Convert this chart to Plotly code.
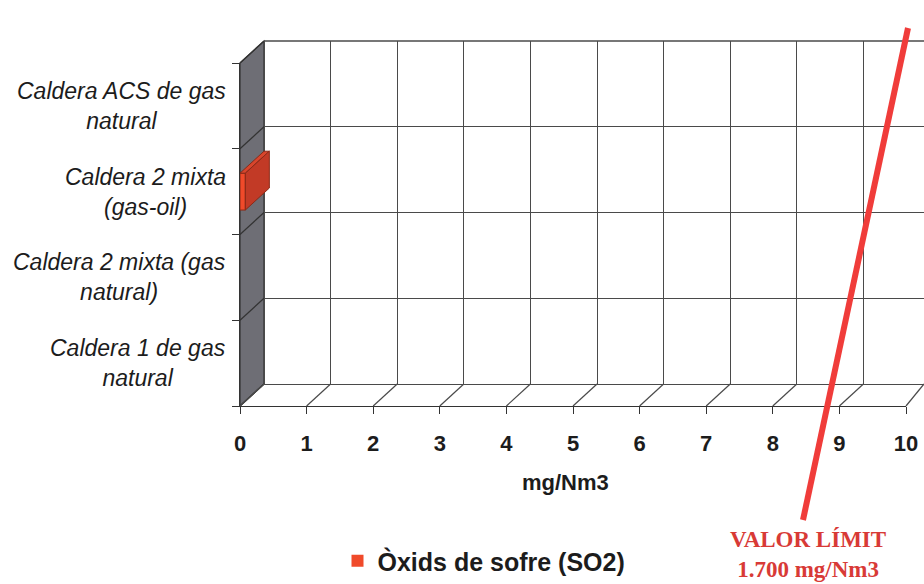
import plotly.graph_objects as go

# ---------------- data ----------------
categories = [
    "Caldera 1 de gas natural",
    "Caldera 2 mixta (gas natural)",
    "Caldera 2 mixta (gas-oil)",
    "Caldera ACS de gas natural",
]
category_labels = [
    "Caldera 1 de gas<br>natural",
    "Caldera 2 mixta (gas<br>natural)",
    "Caldera 2 mixta<br>(gas-oil)",
    "Caldera ACS de gas<br>natural",
]
so2_values = [0, 0, 0.08, 0]
series_name = "Òxids de sofre (SO2)"
x_ticks = list(range(0, 11))
x_title = "mg/Nm3"
limit_text = "VALOR LÍMIT<br>1.700 mg/Nm3"

# ---------------- geometry helpers (pixels -> paper) ----------------
W, H = 924, 584
def px(x):
    return x / W
def py(y):
    return 1 - y / H

FX0, FX1 = 240, 906      # front plane x extent (0 .. 10)
FYB, FYT = 406, 63       # front plane y extent
DX, DY = 24, 22          # 3-D depth offset in pixels
unit_px = (FX1 - FX0) / 10.0
cat_px = (FYB - FYT) / len(categories)

GRID = "#4a4a4a"
TXT = "#1c1c1c"
BAR = "#f04a2a"

fig = go.Figure()

# back wall subplot (x / y)
fig.add_trace(go.Scatter(x=[None], y=[None], xaxis="x", yaxis="y",
                         showlegend=False, hoverinfo="skip"))
# front subplot with the bars (x2 / y2)
fig.add_trace(go.Bar(
    y=categories, x=so2_values, orientation="h", xaxis="x2", yaxis="y2",
    width=0.43, name=series_name,
    marker=dict(color=BAR, line=dict(width=0)),
))

shapes = []
# left wall
shapes.append(dict(type="path", xref="paper", yref="paper", layer="below",
                   path=f"M{px(FX0)},{py(FYT)} L{px(FX0+DX)},{py(FYT-DY)} "
                        f"L{px(FX0+DX)},{py(FYB-DY)} L{px(FX0)},{py(FYB)} Z",
                   fillcolor="#6e6e75", line=dict(color="#333333", width=1.2)))
# diagonals on the left wall at category boundaries
for i in range(len(categories) + 1):
    yb = FYB - i * cat_px
    shapes.append(dict(type="line", xref="paper", yref="paper", layer="below",
                       x0=px(FX0), y0=py(yb), x1=px(FX0 + DX), y1=py(yb - DY),
                       line=dict(color="#333333", width=1.2)))
# back wall top edge
shapes.append(dict(type="line", xref="paper", yref="paper", layer="below",
                   x0=px(FX0 + DX), y0=py(FYT - DY), x1=1, y1=py(FYT - DY),
                   line=dict(color=GRID, width=1.3)))
# floor diagonals at each x tick
for k in x_ticks:
    xf = FX0 + k * unit_px
    shapes.append(dict(type="line", xref="paper", yref="paper", layer="below",
                       x0=px(xf), y0=py(FYB), x1=px(min(xf + DX, W)), y1=py(FYB - DY),
                       line=dict(color=GRID, width=1.2)))

# 3-D faces for bars (data coordinates of the front axes)
ddx = DX / unit_px
ddy = DY / cat_px
half = 0.43 / 2
for i, v in enumerate(so2_values):
    if v <= 0:
        continue
    top = i + half
    bot = i - half
    shapes.append(dict(type="path", xref="x2", yref="y2",
                       path=f"M0,{bot} L{v},{bot} L{v},{top} L0,{top} Z",
                       fillcolor="rgba(0,0,0,0)", line=dict(color="#8a2a18", width=1)))
    shapes.append(dict(type="path", xref="x2", yref="y2",
                       path=f"M0,{top} L{v},{top} L{v+ddx},{top+ddy} L{ddx},{top+ddy} Z",
                       fillcolor="#d8452c", line=dict(color="#8a2a18", width=1)))
    shapes.append(dict(type="path", xref="x2", yref="y2",
                       path=f"M{v},{bot} L{v},{top} L{v+ddx},{top+ddy} L{v+ddx},{bot+ddy} Z",
                       fillcolor="#c23a26", line=dict(color="#8a2a18", width=1)))

# limit line
shapes.append(dict(type="line", xref="paper", yref="paper",
                   x0=px(908), y0=py(28), x1=px(803), y1=py(520),
                   line=dict(color="#f03c3a", width=6)))

annotations = []
for cat, lab in zip(categories, category_labels):
    annotations.append(dict(x=px(228), y=cat, xref="paper", yref="y2",
                            text=lab, showarrow=False, xanchor="right", yanchor="middle",
                            align="center",
                            font=dict(family="Arial", size=23, color=TXT, style="italic")))
annotations.append(dict(x=px(565), y=py(482), xref="paper", yref="paper",
                        text=x_title, showarrow=False, xanchor="center", yanchor="middle",
                        font=dict(family="Arial", size=22, color=TXT, weight="bold")))
annotations.append(dict(x=px(808), y=py(554), xref="paper", yref="paper",
                        text=limit_text, showarrow=False, align="center",
                        xanchor="center", yanchor="middle",
                        font=dict(family="Liberation Serif", size=23, color="#d83a36",
                                  weight="bold")))

back_xmax = (W - (FX0 + DX)) / unit_px

fig.update_layout(
    width=W, height=H,
    margin=dict(l=0, r=0, t=0, b=0),
    paper_bgcolor="white", plot_bgcolor="rgba(0,0,0,0)",
    template="none",
    showlegend=True,
    legend=dict(x=px(484), y=0, xanchor="center", yanchor="bottom",
                bgcolor="rgba(0,0,0,0)",
                font=dict(family="Arial", size=25, color=TXT, weight="bold")),
    xaxis=dict(domain=[px(FX0 + DX), 1], range=[0, back_xmax], anchor="y",
               showgrid=True, gridcolor=GRID, gridwidth=1.3, dtick=1, tick0=0,
               zeroline=True, zerolinecolor=GRID, zerolinewidth=1.3,
               showline=False, showticklabels=False, ticks="", automargin=False,
               fixedrange=True),
    yaxis=dict(domain=[py(FYB - DY), py(FYT - DY)], range=[0, 4.001], anchor="x",
               showgrid=True, gridcolor=GRID, gridwidth=1.3, dtick=1, tick0=0,
               zeroline=True, zerolinecolor=GRID, zerolinewidth=1.3,
               showline=False, showticklabels=False, ticks="", automargin=False,
               fixedrange=True),
    xaxis2=dict(domain=[px(FX0), px(FX1)], range=[0, 10], anchor="y2",
                showgrid=False, zeroline=False, showline=True, linecolor="#333333",
                linewidth=1.3, ticks="outside", ticklen=7, tickcolor="#333333",
                tickvals=x_ticks, ticktext=[str(t) for t in x_ticks],
                ticklabelstandoff=10,
                tickfont=dict(family="Arial", size=22, color=TXT, weight="bold"),
                automargin=False, fixedrange=True),
    yaxis2=dict(domain=[py(FYB), py(FYT)], type="category",
                categoryorder="array", categoryarray=categories,
                range=[-0.5, len(categories) - 0.5], anchor="x2",
                showgrid=False, zeroline=False, showline=True, linecolor="#333333",
                linewidth=1.3, ticks="outside", ticklen=7, tickcolor="#333333",
                tickson="boundaries", showticklabels=False,
                automargin=False, fixedrange=True),
    shapes=shapes,
    annotations=annotations,
)

post = (
    "var s=document.createElement('style');"
    "s.textContent='html,body{margin:0;padding:0;overflow:hidden;width:924px;height:584px;}';"
    "document.head.appendChild(s);"
)
fig.write_html("out.html", config={"displayModeBar": False}, post_script=post)
